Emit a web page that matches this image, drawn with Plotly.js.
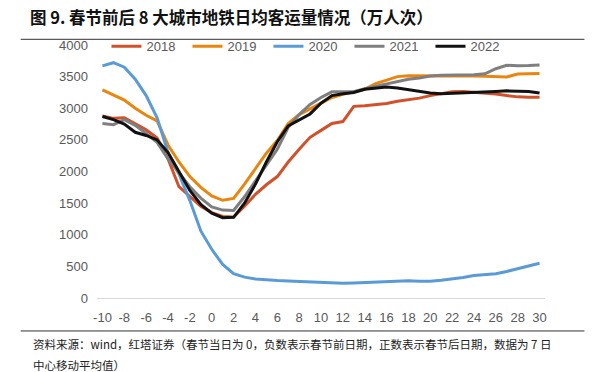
<!DOCTYPE html>
<html><head><meta charset="utf-8">
<script src="https://cdn.plot.ly/plotly-3.0.1.min.js"></script>
<style>html,body{margin:0;padding:0;background:#fff;}#chart{width:602px;height:372px;}</style>
</head><body><div id="chart"></div>
<script>
const days = [-10,-9,-8,-7,-6,-5,-4,-3,-2,-1,0,1,2,3,4,5,6,7,8,9,10,11,12,13,14,15,16,17,18,19,20,21,22,23,24,25,26,27,28,29,30];
const tickVals = [-10,-8,-6,-4,-2,0,2,4,6,8,10,12,14,16,18,20,22,24,26,28,30];
const tickText = ['-10','-8','-6','-4','-2','0','2','4','6','8','10','12','14','16','18','20','22','24','26','28','30'];
const s2018 = [2880,2840,2850,2760,2660,2530,2200,1760,1600,1450,1350,1290,1280,1450,1640,1790,1920,2150,2350,2540,2650,2760,2790,3030,3040,3060,3075,3110,3130,3160,3200,3235,3260,3265,3255,3240,3225,3200,3180,3175,3175];
const s2019 = [3290,3210,3130,3000,2890,2800,2420,2150,1920,1750,1615,1545,1575,1800,2055,2290,2490,2760,2900,2990,3080,3170,3220,3260,3300,3390,3450,3500,3515,3515,3515,3520,3520,3515,3510,3505,3500,3495,3540,3545,3550];
const s2020 = [3670,3720,3650,3460,3200,2850,2300,1960,1540,1060,770,530,385,330,300,285,275,268,260,255,245,238,232,238,245,252,260,268,272,265,265,280,300,325,355,372,385,420,465,510,550];
const s2021 = [2760,2740,2820,2730,2600,2460,2200,1980,1760,1580,1440,1390,1385,1600,1850,2120,2350,2700,2900,3060,3170,3260,3255,3260,3310,3350,3380,3420,3460,3480,3510,3520,3520,3525,3530,3545,3625,3680,3670,3675,3685];
const s2022 = [2870,2820,2750,2620,2570,2500,2300,1990,1700,1480,1340,1270,1275,1500,1800,2150,2470,2720,2820,2910,3080,3200,3230,3250,3300,3320,3335,3320,3290,3260,3240,3230,3235,3245,3250,3260,3265,3275,3275,3265,3240];
const seriesNames = ['2018','2019','2020','2021','2022'];
const seriesData = [s2018,s2019,s2020,s2021,s2022];
const colors = ['#D2512A','#E9860F','#5B9BD5','#7F7F7F','#111111'];

const traces = seriesData.map((v,i)=>({
  x: days, y: v, name: seriesNames[i], type:'scatter', mode:'lines',
  line:{color:colors[i], width:3}
}));

const W=449, H=253.3;
const px = p => (p-96.5)/W;
const py = p => (298-p)/H;

const layout = {
  width:602, height:372,
  margin:{l:96.5, r:56.5, t:44.7, b:74},
  paper_bgcolor:'#fff', plot_bgcolor:'#fff',
  font:{family:'Liberation Sans, Arial, sans-serif', color:'#595959', size:13},
  title:{text:'<b>图 9. 春节前后 8 大城市地铁日均客运量情况（万人次）</b>', x:30/602, xanchor:'left', y:1-18/372, yanchor:'middle',
    font:{family:'Noto Sans CJK SC', size:16.5, color:'#111'}},
  xaxis:{range:[-10.5,30.5], tickvals:tickVals, ticktext:tickText, ticks:'', showgrid:false, zeroline:false,
    showline:true, linecolor:'#d9d9d9', linewidth:1, tickfont:{size:13,color:'#595959'}, ticklabelstandoff:7, fixedrange:true},
  yaxis:{range:[0,4000], dtick:500, tick0:0, showgrid:false, zeroline:false, showline:false,
    ticks:'', tickfont:{size:13,color:'#595959'}, ticklabelstandoff:8, fixedrange:true},
  showlegend:true,
  legend:{orientation:'h', x:px(106), xanchor:'left', y:py(46), yanchor:'middle',
    entrywidth:36, entrywidthmode:'pixels', font:{size:13,color:'#595959'}, bgcolor:'rgba(0,0,0,0)', itemwidth:30},
  shapes:[
    {type:'line', xref:'paper', yref:'paper', x0:px(20), x1:px(585), y0:py(39), y1:py(39), line:{color:'#333', width:1}},
    {type:'line', xref:'paper', yref:'paper', x0:px(20), x1:px(585), y0:py(331), y1:py(331), line:{color:'#333', width:1}}
  ],
  annotations:[
    {xref:'paper', yref:'paper', x:px(30), y:py(344), xanchor:'left', yanchor:'middle', showarrow:false,
     text:'资料来源：wind，红塔证券（春节当日为 0，负数表示春节前日期，正数表示春节后日期，数据为 7 日',
     font:{family:'Noto Sans CJK SC', size:11.5, color:'#222'}},
    {xref:'paper', yref:'paper', x:px(30), y:py(365), xanchor:'left', yanchor:'middle', showarrow:false,
     text:'中心移动平均值）', font:{family:'Noto Sans CJK SC', size:11.5, color:'#222'}}
  ]
};
Plotly.newPlot('chart', traces, layout, {displayModeBar:false, staticPlot:true});
</script></body></html>
